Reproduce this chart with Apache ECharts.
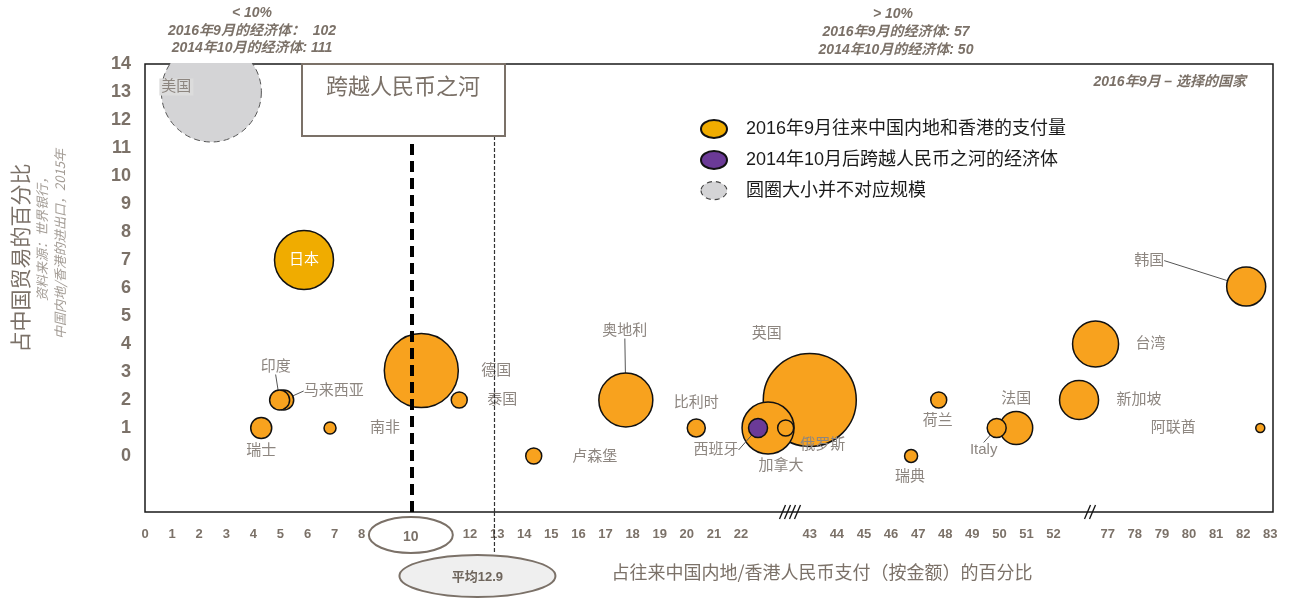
<!DOCTYPE html>
<html lang="zh">
<head>
<meta charset="UTF-8">
<title>跨越人民币之河</title>
<script src="https://cdn.jsdelivr.net/npm/echarts@6.0.0/dist/echarts.min.js"></script>
<style>
    html, body { margin: 0; padding: 0; background: #fff; }
    #main { width: 1296px; height: 599px; }
</style>
</head>
<body>
<div id="main"></div>
<script>
// 经济体（按绘制顺序，后画的在上面）
const names  = ['美国', '日本', '马来西亚', '印度', '瑞士', '南非', '德国', '泰国', '卢森堡', '奥地利', '比利时',
                '英国', '加拿大', '西班牙', '俄罗斯', '瑞典', '荷兰', '法国', 'Italy', '新加坡', '台湾', '韩国', '阿联酋'];
// 占往来中国内地/香港人民币支付（按金额）的百分比
const xShare = [2.45, 5.87, 5.12, 4.97, 4.29, 6.83, 10.2, 11.6, 14.35, 17.75, 20.35,
                43.0, 23.0, 22.63, 23.65, 46.74, 47.76, 50.62, 49.9, 52.94, 53.55, 82.11, 82.63];
// 占中国贸易的百分比
const yTrade = [13.0, 7.0, 2.0, 2.0, 1.0, 1.0, 3.05, 2.0, 0.0, 2.0, 1.0,
                2.0, 1.0, 1.0, 1.0, 0.0, 2.0, 1.0, 1.0, 2.0, 4.0, 6.05, 1.0];
// 圆圈大小（并不对应规模）
const bubble = [100, 59, 20, 20, 21, 12, 74, 16, 16, 54, 18,
                93, 52, 19, 16, 13, 16, 33, 19, 39, 46, 39, 9];
// 分组：sep = 2016年9月支付量, oct = 2014年10月后跨越, none = 不对应规模
const group  = ['none', 'sep', 'sep', 'sep', 'sep', 'sep', 'sep', 'sep', 'sep', 'sep', 'sep',
                'sep', 'sep', 'oct', 'sep', 'sep', 'sep', 'sep', 'sep', 'sep', 'sep', 'sep', 'sep'];

const xTickLabels = [0, 1, 2, 3, 4, 5, 6, 7, 8, 12, 13, 14, 15, 16, 17, 18, 19, 20, 21, 22,
                     43, 44, 45, 46, 47, 48, 49, 50, 51, 52, 77, 78, 79, 80, 81, 82, 83];
const yTickLabels = [0, 1, 2, 3, 4, 5, 6, 7, 8, 9, 10, 11, 12, 13, 14];
const riverX = 9.85;   // 跨越人民币之河 (10%)
const avgX = 12.9;     // 平均12.9
const seriesNames = ['2016年9月往来中国内地和香港的支付量', '2014年10月后跨越人民币之河的经济体', '圆圈大小并不对应规模'];

const FONT = "'Liberation Sans', 'Noto Sans CJK SC', sans-serif";
const TAUPE = '#7b7168';
const LABEL_GRAY = '#8d8680';

// 标签相对圆心的偏移
const labelShift = {
    '美国': [-35, -5], '日本': [0, 0], '印度': [-4, -33], '马来西亚': [50, -9], '瑞士': [0, 23],
    '南非': [55, 0], '德国': [75, 0], '泰国': [43, 0], '卢森堡': [61, 1], '奥地利': [-1, -69],
    '比利时': [0, -25], '西班牙': [-42, 22], '加拿大': [13, 38], '俄罗斯': [37, 17], '英国': [-43, -66],
    '瑞典': [-1, 21], '荷兰': [-1, 21], 'Italy': [-13, 22], '法国': [0, -29], '新加坡': [60, 0],
    '台湾': [55, 0], '韩国': [-97, -26], '阿联酋': [-87, 0]
};
const leaders = ['印度', '马来西亚', '奥地利', '西班牙', '俄罗斯', '韩国', 'Italy'];

function pick(g) {
    return names.map((n, i) => i).filter(i => group[i] === g).map(i => ({
        name: names[i],
        value: [xShare[i], yTrade[i], bubble[i]],
        labelLine: {show: leaders.indexOf(names[i]) >= 0}
    }));
}

const sepData = pick('sep');
const octData = pick('oct');
const noneData = pick('none');

sepData.forEach(d => {
    if (d.name === '日本') {
        d.itemStyle = {color: '#F0AC00'};
        d.label = {color: '#fff'};
    }
});
noneData.forEach(d => {
    d.label = {backgroundColor: '#dcdcdc', padding: [1, 2]};
});

function layoutFor(list) {
    return function (p) {
        const s = labelShift[list[p.dataIndex].name] || [0, 0];
        return {dx: s[0], dy: s[1]};
    };
}

const baseLabel = {
    show: true, position: 'inside', formatter: '{b}',
    color: LABEL_GRAY, fontSize: 15, fontFamily: FONT
};
const baseLine = {lineStyle: {color: '#555', width: 1}};

const chart = echarts.init(document.getElementById('main'));

chart.setOption({
    animation: false,
    textStyle: {fontFamily: FONT},
    grid: {
        left: 145, right: 23, top: 64, bottom: 87,
        show: true, borderColor: '#1a1a1a', borderWidth: 1.5,
        outerBoundsMode: 'none'
    },
    legend: {
        orient: 'vertical', left: 695, top: 114,
        itemWidth: 26, itemHeight: 18, itemGap: 11,
        icon: 'path://M0,9a13,9 0 1,0 26,0a13,9 0 1,0 -26,0z',
        textStyle: {fontSize: 18, color: '#1a1a1a', fontFamily: FONT, padding: [0, 0, 0, 14]},
        data: [
            {name: seriesNames[0], itemStyle: {color: '#F0AC00'}},
            {name: seriesNames[1]},
            {name: seriesNames[2], itemStyle: {borderType: [5, 4], borderColor: '#444', borderWidth: 1.2}}
        ]
    },
    xAxis: {
        type: 'value', min: 0, max: 83.1, interval: 1,
        breaks: [
            {start: 23.8, end: 43, gap: 0.74},
            {start: 53.6, end: 77, gap: 0.4}
        ],
        breakArea: {show: false},
        breakLabelLayout: {moveOverlap: false},
        axisLine: {show: false, onZero: false},
        axisTick: {show: false},
        splitLine: {show: false},
        axisLabel: {
            margin: 16, color: TAUPE, fontWeight: 'bold', fontSize: 13, fontFamily: FONT,
            formatter: v => {
                const r = Math.round(v * 100) / 100;
                return xTickLabels.indexOf(r) >= 0 ? String(r) : '';
            }
        }
    },
    yAxis: {
        type: 'value', min: -2, max: 14, interval: 1,
        axisLine: {show: false, onZero: false},
        axisTick: {show: false},
        splitLine: {show: false},
        axisLabel: {
            margin: 14, color: TAUPE, fontWeight: 'bold', fontSize: 18, fontFamily: FONT,
            formatter: v => yTickLabels.indexOf(v) >= 0 ? String(v) : ''
        }
    },
    series: [
        {
            name: seriesNames[2], type: 'scatter', data: noneData,
            symbolSize: d => d[2],
            itemStyle: {color: '#d4d4d6', borderColor: '#555', borderWidth: 1, borderType: [6, 4], opacity: 1},
            label: baseLabel, labelLine: baseLine, labelLayout: layoutFor(noneData),
            z: 2
        },
        {
            name: seriesNames[0], type: 'scatter', data: sepData,
            symbolSize: d => d[2],
            itemStyle: {color: '#F8A21E', borderColor: '#111', borderWidth: 1.5, opacity: 1},
            label: baseLabel, labelLine: baseLine, labelLayout: layoutFor(sepData),
            z: 3,
            markLine: {
                silent: true, symbol: 'none', label: {show: false},
                data: [
                    [{coord: [riverX, -2], lineStyle: {color: '#000', width: 4, type: [11, 6]}}, {coord: [riverX, 11.3]}],
                    [{coord: [avgX, -2], lineStyle: {color: '#333', width: 1.2, type: [4, 2]}}, {coord: [avgX, 11.4]}]
                ]
            }
        },
        {
            name: seriesNames[1], type: 'scatter', data: octData,
            symbolSize: d => d[2],
            itemStyle: {color: '#6B3A97', borderColor: '#111', borderWidth: 1.5, opacity: 1},
            label: baseLabel, labelLine: baseLine, labelLayout: layoutFor(octData),
            z: 4
        }
    ]
});

// 注释：依据坐标轴换算位置
const riverPx = chart.convertToPixel({xAxisIndex: 0, yAxisIndex: 0}, [riverX, -2]);
const avgPx = chart.convertToPixel({xAxisIndex: 0, yAxisIndex: 0}, [avgX, -2]);

function slashes(cx, cy, n) {
    const out = [];
    for (let k = 0; k < n; k++) {
        const x = cx + (k - (n - 1) / 2) * 5;
        out.push({type: 'line', shape: {x1: x - 3, y1: cy + 7, x2: x + 3, y2: cy - 7},
                  style: {stroke: '#111', lineWidth: 1.3}, z: 110, silent: true});
    }
    return out;
}

function txt(x, y, text, extra) {
    return {
        type: 'text', x: x, y: y, z: 120, silent: true,
        style: Object.assign({text: text, align: 'center', verticalAlign: 'middle', fill: TAUPE,
                              font: "italic bold 14px " + FONT}, extra || {})
    };
}

chart.setOption({
    graphic: [
        // 图区上方遮挡（裁掉美国圆圈）
        {type: 'rect', shape: {x: 146, y: 0, width: 1127, height: 63}, style: {fill: '#fff'}, z: 100, silent: true},
        txt(252, 13, '< 10%'),
        txt(252, 31, '2016年9月的经济体：  102'),
        txt(252, 48, '2014年10月的经济体: 111'),
        txt(893, 14, '> 10%'),
        txt(896, 32, '2016年9月的经济体: 57'),
        txt(896, 50, '2014年10月的经济体: 50'),
        txt(1246, 82, '2016年9月 – 选择的国家', {align: 'right'}),
        // 跨越人民币之河
        {type: 'rect', shape: {x: 302, y: 64, width: 203, height: 72},
         style: {fill: '#fff', stroke: TAUPE, lineWidth: 2}, z: 110, silent: true},
        txt(403, 86, '跨越人民币之河', {font: "22px 'Noto Sans CJK SC', sans-serif"}),
        // y 轴标题与资料来源
        {type: 'text', x: 20, y: 258, rotation: Math.PI / 2, z: 120, silent: true,
         style: {text: '占中国贸易的百分比', align: 'center', verticalAlign: 'middle', fill: TAUPE,
                 font: "21px 'Noto Sans CJK SC', sans-serif"}},
        {type: 'text', x: 42, y: 236, rotation: Math.PI / 2, z: 120, silent: true,
         style: {text: '资料来源：世界银行，', align: 'center', verticalAlign: 'middle', fill: '#a39c95',
                 font: "italic 13px 'Noto Sans CJK SC', sans-serif"}},
        {type: 'text', x: 60, y: 244, rotation: Math.PI / 2, z: 120, silent: true,
         style: {text: '中国内地/香港的进出口，2015年', align: 'center', verticalAlign: 'middle', fill: '#a39c95',
                 font: "italic 13px 'Noto Sans CJK SC', sans-serif"}},
        // x 轴标题
        txt(822, 572, '占往来中国内地/香港人民币支付（按金额）的百分比',
            {font: "18px 'Noto Sans CJK SC', sans-serif"}),
        // 10% 椭圆
        {type: 'ellipse', shape: {cx: riverPx[0] - 1, cy: 535, rx: 42, ry: 18},
         style: {fill: '#fff', stroke: TAUPE, lineWidth: 2}, z: 110, silent: true},
        txt(riverPx[0] - 1, 537, '10', {font: "bold 14px " + FONT}),
        // 平均 12.9
        {type: 'line', shape: {x1: avgPx[0], y1: avgPx[1], x2: avgPx[0], y2: 554},
         style: {stroke: '#333', lineWidth: 1.2, lineDash: [4, 2]}, z: 105, silent: true},
        {type: 'ellipse', shape: {cx: avgPx[0] - 17, cy: 576, rx: 78, ry: 21},
         style: {fill: '#efefef', stroke: TAUPE, lineWidth: 2}, z: 110, silent: true},
        txt(avgPx[0] - 17, 577, '平均12.9', {font: "bold 13px " + FONT, fill: '#6e655c'})
    ].concat(slashes(790, 512, 4), slashes(1090, 512, 2))
});
</script>
</body>
</html>
